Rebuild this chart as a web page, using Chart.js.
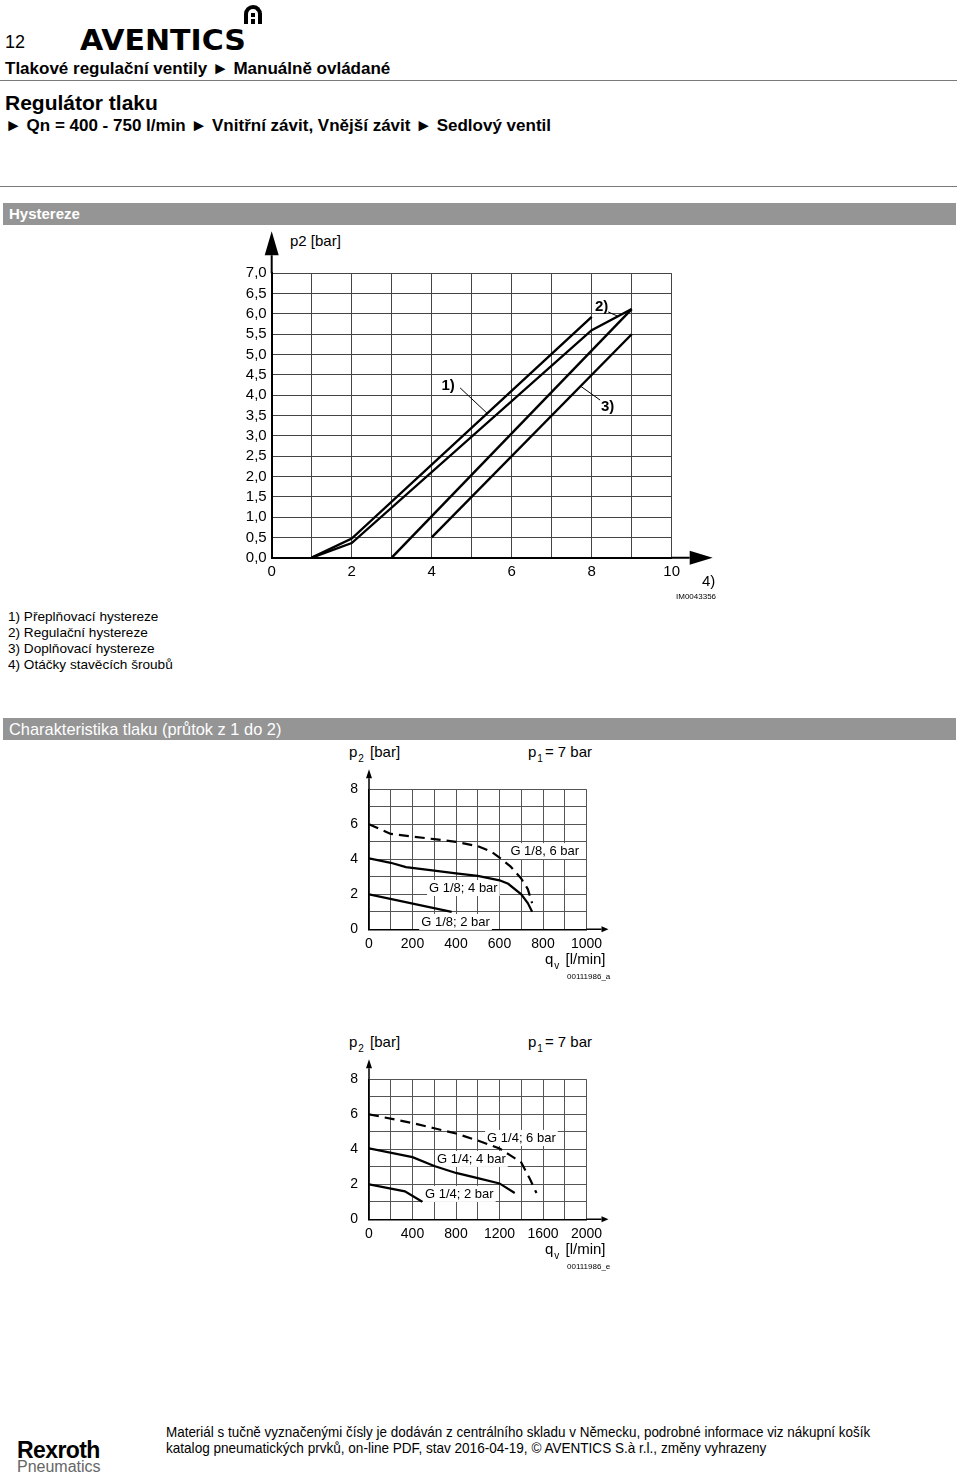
<!DOCTYPE html>
<html lang="cs">
<head>
<meta charset="utf-8">
<title>Regulátor tlaku</title>
<script src="https://cdn.jsdelivr.net/npm/chart.js@4.4.1/dist/chart.umd.min.js"></script>
<style>
  body { margin: 0; width: 960px; height: 1473px; position: relative; overflow: hidden; background: #fff; color: #000; font-family: "Liberation Sans", Arial, sans-serif; }
  .t { position: absolute; white-space: nowrap; line-height: 1; }
  .b { font-weight: bold; }
  .rule { position: absolute; left: 0; width: 957px; height: 1px; background: #7a7a7a; }
  .bar { position: absolute; left: 3px; width: 953px; height: 22px; background: #959595; color: #fff; font-size: 15px; line-height: 22px; padding-left: 6px; box-sizing: border-box; }
  .sub { font-size: 10px; position: relative; top: 5px; margin: 0 2px 0 1px; }
  canvas { position: absolute; }
  .logo { position: absolute; left: 244px; top: 5px; width: 18px; height: 19px; box-sizing: border-box; border: 4px solid #000; border-bottom: none; border-radius: 9px 9px 0 0; }
  .logo i { position: absolute; left: 3px; top: 4px; width: 4px; height: 4px; background: #000; }
  .logo b { position: absolute; left: 3px; top: 10px; width: 4px; height: 5px; background: #000; }
  .foot { font-size: 15px; transform-origin: 0 50%; }
</style>
</head>
<body>
<div class="t" style="left:5px;top:33px;font-size:18px;">12</div>
<div class="t b" style="left:80px;top:25px;font-size:30px;font-family:'DejaVu Sans',sans-serif;transform:scaleY(0.95);">AVENTICS</div>
<div class="logo"><i></i><b></b></div>
<div class="t b" style="left:5px;top:60px;font-size:17px;">Tlakové regulační ventily ► Manuálně ovládané</div>
<div class="rule" style="top:80px;"></div>
<div class="t b" style="left:5px;top:92px;font-size:21px;">Regulátor tlaku</div>
<div class="t b" style="left:5px;top:117px;font-size:17px;">► Qn = 400 - 750 l/min ► Vnitřní závit, Vnější závit ► Sedlový ventil</div>
<div class="rule" style="top:186px;"></div>

<div class="bar b" style="top:203px;">Hystereze</div>
<div class="t" style="left:290px;top:233px;font-size:15px;">p2 [bar]</div>
<canvas id="hystChart" style="left:190px;top:225px;"></canvas>
<div class="t" style="left:702px;top:573px;font-size:15px;">4)</div>
<div class="t" style="left:676px;top:593px;font-size:8px;">IM0043356</div>
<div class="t" style="left:8px;top:609px;font-size:13.6px;line-height:16px;">1) Přeplňovací hystereze<br>2) Regulační hystereze<br>3) Doplňovací hystereze<br>4) Otáčky stavěcích šroubů</div>

<div class="bar" style="top:718px;font-size:16.4px;">Charakteristika tlaku (průtok z 1 do 2)</div>
<div class="t" style="left:349px;top:744px;font-size:15px;">p<span class="sub">2</span> [bar]</div>
<div class="t" style="left:528px;top:744px;font-size:15px;">p<span class="sub">1</span>= 7 bar</div>
<canvas id="flowChart18" style="left:300px;top:760px;"></canvas>
<div class="t" style="left:545px;top:951px;font-size:15px;">q<span class="sub">v</span> [l/min]</div>
<div class="t" style="left:567px;top:973px;font-size:8px;">00111986_a</div>

<div class="t" style="left:349px;top:1034px;font-size:15px;">p<span class="sub">2</span> [bar]</div>
<div class="t" style="left:528px;top:1034px;font-size:15px;">p<span class="sub">1</span>= 7 bar</div>
<canvas id="flowChart14" style="left:300px;top:1050px;"></canvas>
<div class="t" style="left:545px;top:1241px;font-size:15px;">q<span class="sub">v</span> [l/min]</div>
<div class="t" style="left:567px;top:1263px;font-size:8px;">00111986_e</div>

<div class="t b" style="left:17px;top:1439px;font-size:23px;letter-spacing:-0.6px;">Rexroth</div>
<div class="t" style="left:17px;top:1459px;font-size:16px;color:#666;">Pneumatics</div>
<div class="t foot" id="foot1" data-w="704" style="left:166px;top:1424px;">Materiál s tučně vyznačenými čísly je dodáván z centrálního skladu v Německu, podrobné informace viz nákupní košík</div>
<div class="t foot" id="foot2" data-w="600" style="left:166px;top:1440px;">katalog pneumatických prvků, on-line PDF, stav 2016-04-19, © AVENTICS S.à r.l., změny vyhrazeny</div>

<script>
// Hystereze: otáčky stavěcích šroubů (x), p2 [bar] (y)
const turnsA = [1, 2, 8];
const pressA = [0, 0.47, 5.93];
const turnsB = [1, 2, 8, 9];
const pressB = [0, 0.36, 5.6, 6.12];
const turnsC = [3, 9];
const pressC = [0, 6.12];
const turnsD = [4, 9];
const pressD = [0.5, 5.5];

// G 1/8, p1 = 7 bar
const q18_6 = [0, 100, 200, 300, 400, 500, 560, 600, 650, 700, 730, 750];
const p18_6 = [6.0, 5.45, 5.3, 5.15, 5.0, 4.75, 4.45, 4.1, 3.6, 2.9, 2.3, 1.5];
const q18_4 = [0, 100, 170, 300, 400, 500, 600, 640, 700, 730, 750];
const p18_4 = [4.05, 3.8, 3.55, 3.35, 3.2, 3.05, 2.8, 2.6, 2.0, 1.5, 1.0];
const q18_2 = [0, 380];
const p18_2 = [2.0, 1.0];

// G 1/4, p1 = 7 bar
const q14_6 = [0, 400, 600, 800, 1000, 1200, 1300, 1400, 1480, 1540];
const p14_6 = [6.0, 5.5, 5.2, 4.9, 4.5, 4.05, 3.65, 3.25, 2.3, 1.5];
const q14_4 = [0, 400, 600, 800, 1000, 1200, 1340];
const p14_4 = [4.05, 3.55, 3.05, 2.65, 2.35, 2.05, 1.5];
const q14_2 = [0, 330, 490];
const p14_2 = [2.0, 1.6, 1.0];

// úzké písmo patičky
document.querySelectorAll(".foot").forEach((el) => {
  const k = Number(el.dataset.w) / el.offsetWidth;
  el.style.transform = `scaleX(${k})`;
});

Chart.defaults.font.family = '"Liberation Sans", Arial, sans-serif';
Chart.defaults.color = "#000";

const pts = (xs, ys) => xs.map((x, i) => ({ x, y: ys[i] }));

// šipky na osách
const arrowPlugin = {
  id: "arrows",
  afterDraw(chart, args, o) {
    const { ctx, chartArea: a } = chart;
    ctx.save();
    ctx.strokeStyle = "#000";
    ctx.fillStyle = "#000";
    ctx.lineWidth = o.width;
    ctx.beginPath();
    ctx.moveTo(a.left, a.top);
    ctx.lineTo(a.left, a.top - o.upBase);
    ctx.moveTo(a.right, a.bottom);
    ctx.lineTo(a.right + o.rightBase, a.bottom);
    ctx.stroke();
    ctx.beginPath();
    ctx.moveTo(a.left, a.top - o.up);
    ctx.lineTo(a.left - o.half, a.top - o.upBase);
    ctx.lineTo(a.left + o.half, a.top - o.upBase);
    ctx.closePath();
    ctx.moveTo(a.right + o.right, a.bottom);
    ctx.lineTo(a.right + o.rightBase, a.bottom - o.half);
    ctx.lineTo(a.right + o.rightBase, a.bottom + o.half);
    ctx.closePath();
    ctx.fill();
    ctx.restore();
  },
};

// popisky křivek
const notesPlugin = {
  id: "notes",
  beforeDatasetsDraw(chart, args, o) {
    const { ctx, scales: { x, y } } = chart;
    ctx.save();
    ctx.font = o.font;
    ctx.textBaseline = "middle";
    ctx.textAlign = o.align;
    o.items.forEach((n) => {
      const px = x.getPixelForValue(n.x);
      const py = y.getPixelForValue(n.y);
      if (o.box) {
        const w = ctx.measureText(n.text).width;
        ctx.fillStyle = "#fff";
        ctx.fillRect(px - 2, py - 8, w + 4, 16);
      }
      ctx.fillStyle = "#000";
      ctx.fillText(n.text, px, py);
    });
    ctx.restore();
  },
};

// === Hystereze ===
const hystCanvas = document.getElementById("hystChart");
hystCanvas.width = 540;
hystCanvas.height = 390;
const curve = (data, width, dash) => ({
  data,
  borderColor: "#000",
  borderWidth: width,
  borderDash: dash || [],
  pointRadius: 0,
  tension: 0,
  fill: false,
});
new Chart(hystCanvas, {
  type: "line",
  data: {
    datasets: [
      curve(pts(turnsA, pressA), 2.4),
      curve(pts(turnsB, pressB), 2.4),
      curve(pts(turnsC, pressC), 2.4),
      curve(pts(turnsD, pressD), 2.4),
      // odkazové čáry
      curve(pts([4.71, 5.38], [4.18, 3.56]), 1),
      curve(pts([8.41, 8.66], [6.05, 5.94]), 1),
      curve(pts([7.71, 8.21], [4.23, 3.88]), 1),
    ],
  },
  options: {
    responsive: false,
    animation: false,
    layout: { padding: { left: 0, top: 48.3, right: 58.3, bottom: 32.3 } },
    plugins: {
      legend: { display: false },
      tooltip: { enabled: false },
      arrows: { width: 2, up: 42, upBase: 18, right: 41, rightBase: 18, half: 7 },
      notes: {
        font: "bold 15px 'Liberation Sans', Arial, sans-serif",
        align: "center",
        box: false,
        items: [
          { text: "1)", x: 4.41, y: 4.23 },
          { text: "2)", x: 8.25, y: 6.18 },
          { text: "3)", x: 8.4, y: 3.72 },
        ],
      },
    },
    scales: {
      x: {
        type: "linear",
        min: 0,
        max: 10,
        afterFit(s) { s.height = 25; },
        grid: { color: "#444", lineWidth: 1, drawTicks: false },
        border: { color: "#000", width: 2 },
        ticks: {
          stepSize: 1,
          autoSkip: false,
          maxRotation: 0,
          padding: 5,
          font: { size: 15 },
          callback(v) { return v % 2 === 0 ? String(v) : ""; },
        },
      },
      y: {
        min: 0,
        max: 7,
        afterFit(s) { s.width = 81.7; },
        grid: { color: "#444", lineWidth: 1, drawTicks: false },
        border: { color: "#000", width: 2 },
        ticks: {
          stepSize: 0.5,
          autoSkip: false,
          padding: 5,
          font: { size: 15 },
          callback(v) { return v.toFixed(1).replace(".", ","); },
        },
      },
    },
  },
  plugins: [arrowPlugin, notesPlugin],
});

// === Charakteristika tlaku ===
function flowChart(id, maxQ, stepQ, series, notes) {
  const canvas = document.getElementById(id);
  canvas.width = 330;
  canvas.height = 200;
  return new Chart(canvas, {
    type: "line",
    data: {
      datasets: [
        curve(pts(series[0][0], series[0][1]), 2.2, [10, 6]),
        curve(pts(series[1][0], series[1][1]), 2.2),
        curve(pts(series[2][0], series[2][1]), 2.2),
      ],
    },
    options: {
      responsive: false,
      animation: false,
      layout: { padding: { left: 0, top: 29.3, right: 43.5, bottom: 8.7 } },
      plugins: {
        legend: { display: false },
        tooltip: { enabled: false },
        arrows: { width: 1.5, up: 20, upBase: 11, right: 22, rightBase: 15, half: 3 },
        notes: {
          font: "13px 'Liberation Sans', Arial, sans-serif",
          align: "left",
          box: true,
          items: notes,
        },
      },
      scales: {
        x: {
          type: "linear",
          min: 0,
          max: maxQ,
          afterFit(s) { s.height = 22; },
          grid: { color: "#555", lineWidth: 1, drawTicks: false },
          border: { color: "#000", width: 1.5 },
          ticks: {
            stepSize: stepQ,
            autoSkip: false,
            maxRotation: 0,
            padding: 6,
            font: { size: 14 },
            callback(v) { return v % (stepQ * 2) === 0 ? String(v) : ""; },
          },
        },
        y: {
          min: 0,
          max: 8,
          afterFit(s) { s.width = 69; },
          grid: { color: "#555", lineWidth: 1, drawTicks: false },
          border: { color: "#000", width: 1.5 },
          ticks: {
            stepSize: 1,
            autoSkip: false,
            padding: 11,
            font: { size: 14 },
            callback(v) { return v % 2 === 0 ? String(v) : ""; },
          },
        },
      },
    },
    plugins: [arrowPlugin, notesPlugin],
  });
}

flowChart("flowChart18", 1000, 100,
  [[q18_6, p18_6], [q18_4, p18_4], [q18_2, p18_2]],
  [
    { text: "G 1/8, 6 bar", x: 650, y: 4.47 },
    { text: "G 1/8; 4 bar", x: 276, y: 2.36 },
    { text: "G 1/8; 2 bar", x: 240, y: 0.42 },
  ]);

flowChart("flowChart14", 2000, 200,
  [[q14_6, p14_6], [q14_4, p14_4], [q14_2, p14_2]],
  [
    { text: "G 1/4; 6 bar", x: 1086, y: 4.65 },
    { text: "G 1/4; 4 bar", x: 626, y: 3.45 },
    { text: "G 1/4; 2 bar", x: 515, y: 1.45 },
  ]);
</script>
</body>
</html>
